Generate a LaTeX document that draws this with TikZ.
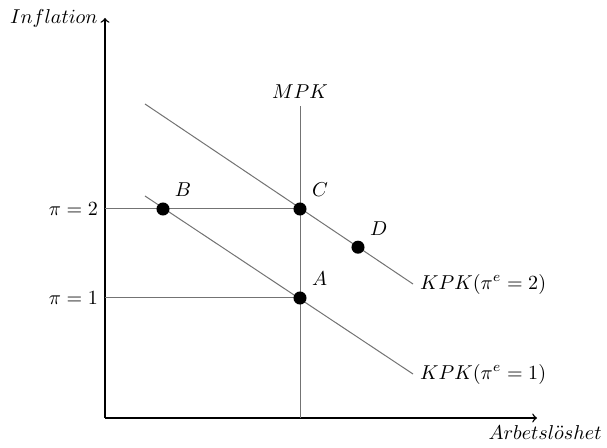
\documentclass[tikz,border=0pt]{standalone}
\usepackage{amsmath, amssymb}
\usepackage{tikz}
\usetikzlibrary{calc, positioning}

\begin{document}
\begin{tikzpicture}[scale=0.7,
    dot/.style={circle, fill=black, inner sep=0pt, minimum size=6.5pt},
    gline/.style={black!55, line width=0.5pt}]
    \useasboundingbox (-2.625,-0.725) rectangle (12.55,10.45);

    % 1. Axlar
    \coordinate (O) at (0,0);
    \coordinate (ytop) at (0,10);
    \coordinate (xend) at (10.8,0);
    \draw[->, line width=0.7pt] (O) -- (ytop) node[left] {$Inflation$};
    \draw[->, line width=0.7pt] (O) -- (xend) node[below, xshift=4pt] {$Arbetsl\ddot{o}shet$};

    % 2. Punkter och nivåer
    \coordinate (pC) at (4.875,5.225);
    \coordinate (pA) at (4.875,3);
    \coordinate (pB) at (1.45,5.225);
    \coordinate (pD) at (6.325,4.27);
    \coordinate (pi2) at (0,5.225);
    \coordinate (pi1) at (0,3);
    \node[left] at (pi2) {$\pi = 2$};
    \node[left] at (pi1) {$\pi = 1$};
    \draw[gline] (pi2) -- (pC);
    \draw[gline] (pi1) -- (pA);

    % 3. MPK
    \coordinate (mpkbot) at (4.875,0);
    \coordinate (mpktop) at (4.875,7.8);
    \draw[gline] (mpkbot) -- (mpktop) node[above, text=black] {$MPK$};

    % 4. KPK-kurvor
    \coordinate (k2s) at (1,7.85);
    \coordinate (k2e) at (7.7,3.35);
    \coordinate (k1s) at (1,5.55);
    \coordinate (k1e) at (7.7,1.1);
    \draw[gline] (k2s) -- (k2e) node[right, text=black] {$KPK(\pi^e = 2)$};
    \draw[gline] (k1s) -- (k1e) node[right, text=black] {$KPK(\pi^e = 1)$};

    % 5. Jämviktspunkter
    \node[dot, label={above right:$A$}] (A) at (pA) {};
    \node[dot, label={above right:$B$}] (B) at (pB) {};
    \node[dot, label={above right:$C$}] (C) at (pC) {};
    \node[dot, label={above right:$D$}] (D) at (pD) {};
\end{tikzpicture}
\end{document}
